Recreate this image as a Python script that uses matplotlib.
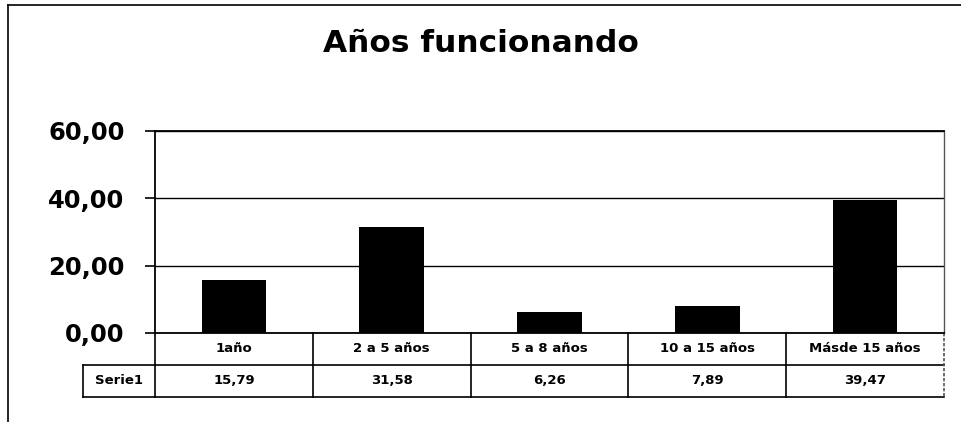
import matplotlib
matplotlib.use("Agg")
import matplotlib.pyplot as plt
from matplotlib.lines import Line2D
import matplotlib.transforms as mtransforms

title = "Años funcionando"
categories = ["1año", "2 a 5 años", "5 a 8 años", "10 a 15 años", "Másde 15 años"]
series_name = "Serie1"
values = [15.79, 31.58, 6.26, 7.89, 39.47]
value_labels = ["15,79", "31,58", "6,26", "7,89", "39,47"]
yticks = [0, 20, 40, 60]
ytick_labels = ["0,00", "20,00", "40,00", "60,00"]

plt.rcParams['font.family'] = ['DejaVu Sans']

W, H = 962, 422
fig = plt.figure(figsize=(W / 100, H / 100), dpi=100)
fig.patch.set_facecolor("white")

left, right, top, bottom = 155, 944, 131, 333
ax = fig.add_axes([left / W, 1 - bottom / H, (right - left) / W, (bottom - top) / H])

x = list(range(len(categories)))
ax.bar(x, values, width=0.41, color="black", zorder=3)
ax.set_xlim(-0.5, len(categories) - 0.5)
ax.set_ylim(0, 60)
ax.set_yticks(yticks)
ax.set_yticklabels(ytick_labels, fontsize=17.5, fontweight="bold")
ax.tick_params(axis="y", length=7, width=1.2, direction="out", pad=15)
ax.set_xticks([])
ax.yaxis.grid(True, color="black", linewidth=1.0, zorder=0)
for s in ["left", "bottom", "top"]:
    ax.spines[s].set_linewidth(1.3)
    ax.spines[s].set_color("black")
ax.spines["right"].set_linewidth(1.0)
ax.spines["right"].set_color("#555555")
ax.spines["right"].set_linestyle((0, (2, 1)))

# data table under the axes
trans = mtransforms.blended_transform_factory(ax.transData, ax.transAxes)
ph = bottom - top
r1 = -(365 - bottom) / ph
r2 = -(397 - bottom) / ph
xl = -0.5 - (left - 83) / 158.0
xr = len(categories) - 0.5
lw = 1.2
def hline(y, x0, x1):
    ax.add_line(Line2D([x0, x1], [y, y], transform=trans, color="black", lw=lw, clip_on=False))
def vline(xv, y0, y1, color="black", ls="-"):
    ax.add_line(Line2D([xv, xv], [y0, y1], transform=trans, color=color, lw=lw, ls=ls, clip_on=False))

hline(r1, xl, xr)
hline(r2, xl, xr)
vline(xl, r1, r2)
vline(-0.5, 0, r2)
for i in range(1, len(categories)):
    vline(i - 0.5, 0, r2)
vline(xr, 0, r2, color="#555555", ls=(0, (2, 1)))

for i, (c, v) in enumerate(zip(categories, value_labels)):
    ax.text(i, r1 / 2, c, transform=trans, ha="center", va="center", fontsize=9.5, fontweight="bold")
    ax.text(i, (r1 + r2) / 2, v, transform=trans, ha="center", va="center", fontsize=9.5, fontweight="bold")
ax.text((xl - 0.5) / 2, (r1 + r2) / 2, series_name, transform=trans, ha="center", va="center",
        fontsize=9.5, fontweight="bold")

# title
fig.text(0.5, 1 - 44 / H, title, ha="center", va="center", fontsize=22.5, fontweight="bold")

# outer frame (chart area border)
fig.add_artist(Line2D([8 / W, 8 / W], [0, 1 - 5 / H], transform=fig.transFigure, color="black", lw=1.2))
fig.add_artist(Line2D([8 / W, 1], [1 - 5 / H, 1 - 5 / H], transform=fig.transFigure, color="black", lw=1.2))

fig.savefig("out.png", dpi=100, facecolor="white")
